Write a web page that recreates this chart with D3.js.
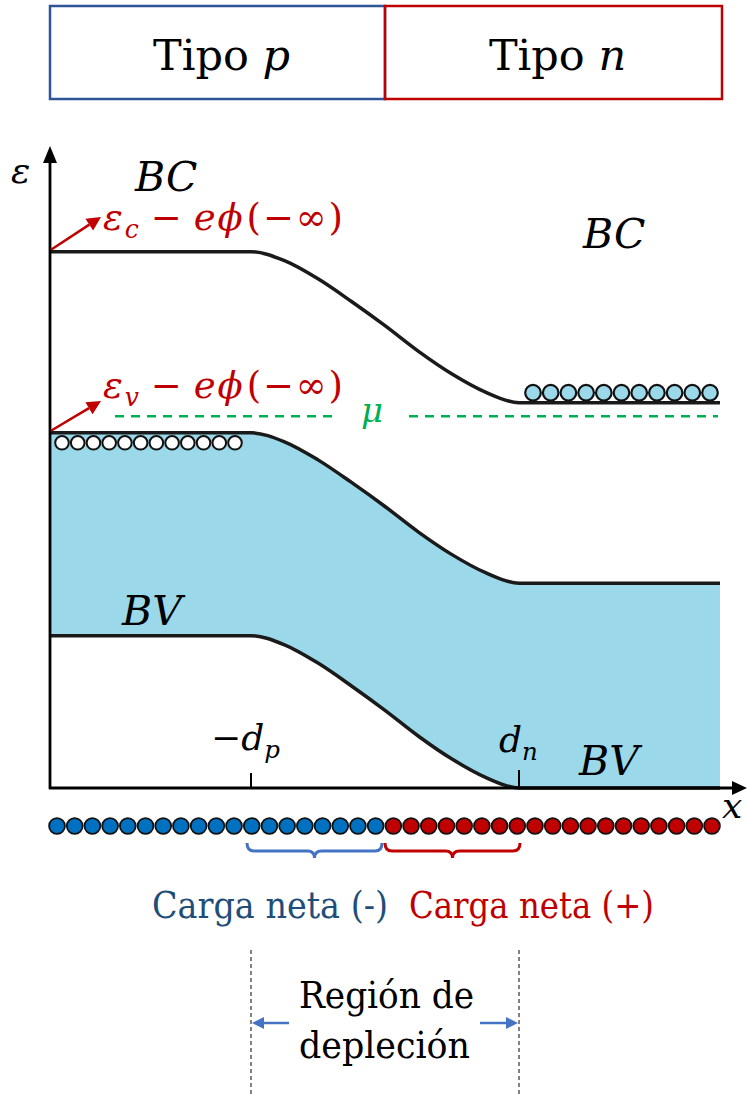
<!DOCTYPE html>
<html>
<head>
<meta charset="utf-8">
<script src="https://cdn.jsdelivr.net/npm/d3@7"></script>
<style>
  body { margin: 0; background: #fff; }
</style>
</head>
<body>
<div id="chart"></div>
<script>
// band diagram data (energy in arbitrary units, position 0..100 across the junction)
var dp = 30, junction = 50, dn = 70;
var cbLevels = [83.8, 60.2];    // conduction band edge, p side / n side
var vbLevels = [55.5, 32.0];    // valence band top
var lowLevels = [23.8, 0.0];    // lower edge of BV
var muLevel = 58.1;
// bending shape: fraction of the total drop vs position
var bendX = [30, 35, 40, 45, 50, 55, 60, 65, 70];
var bendF = [0, 0.06, 0.18, 0.33, 0.49, 0.66, 0.81, 0.93, 1];
var holeCount = 12, electronCount = 11;
var acceptorCount = 19, donorCount = 19;
var boxLabels = ["Tipo ", "Tipo "], boxVars = ["p", "n"];

var svgWidth = 747, svgHeight = 1095;
var serif = "'DejaVu Serif', serif";

var svg = d3.select("#chart")
  .append("svg")
  .attr("width", svgWidth)
  .attr("height", svgHeight)
  .attr("font-family", serif);

var xScale = d3.scaleLinear().domain([0, 100]).range([50, 720]);
var yScale = d3.scaleLinear().domain([0, 100]).range([788, 148]);

var red = "#C00000", green = "#00B050", lightBlue = "#9BD9EA";

// top boxes
var boxColors = ["#2F5597", red];
[0, 1].forEach(function(i) {
  var x0 = i == 0 ? xScale(0) : xScale(junction);
  var x1 = i == 0 ? xScale(junction) : 722;
  svg.append("rect")
    .attr("x", x0).attr("y", 6)
    .attr("width", x1 - x0).attr("height", 93)
    .attr("fill", "none")
    .attr("stroke", boxColors[i])
    .attr("stroke-width", 2.5);
  var t = svg.append("text")
    .attr("x", (x0 + x1) / 2 + 4).attr("y", 70)
    .attr("text-anchor", "middle")
    .style("font-size", "43px");
  t.append("tspan").text(boxLabels[i]);
  t.append("tspan").style("font-style", "italic").text(boxVars[i]);
});

function bandPoints(lv) {
  var pts = [[0, lv[0]]];
  bendX.forEach(function(x, i) {
    pts.push([x, lv[0] + (lv[1] - lv[0]) * bendF[i]]);
  });
  pts.push([100, lv[1]]);
  return pts;
}

var cbPts = bandPoints(cbLevels);
var vbPts = bandPoints(vbLevels);
var lowPts = bandPoints(lowLevels);

// fill of BV
var area = d3.area()
  .x(d => xScale(d[0]))
  .y0((d, i) => yScale(lowPts[i][1]))
  .y1(d => yScale(d[1]))
  .curve(d3.curveMonotoneX);

svg.append("path")
  .datum(vbPts)
  .attr("d", area)
  .attr("fill", lightBlue);

var line = d3.line()
  .x(d => xScale(d[0]))
  .y(d => yScale(d[1]))
  .curve(d3.curveMonotoneX);

[cbPts, vbPts, lowPts].forEach(function(pts) {
  svg.append("path")
    .datum(pts)
    .attr("d", line)
    .attr("fill", "none")
    .attr("stroke", "#1a1a1a")
    .attr("stroke-width", 3.5);
});

// chemical potential
svg.append("line")
  .attr("x1", 115).attr("x2", 334)
  .attr("y1", yScale(muLevel)).attr("y2", yScale(muLevel))
  .attr("stroke", green).attr("stroke-width", 2.5)
  .attr("stroke-dasharray", "9,7");
svg.append("line")
  .attr("x1", 409).attr("x2", 718)
  .attr("y1", yScale(muLevel)).attr("y2", yScale(muLevel))
  .attr("stroke", green).attr("stroke-width", 2.5)
  .attr("stroke-dasharray", "9,7");
svg.append("text")
  .attr("x", 361).attr("y", yScale(muLevel) + 6)
  .attr("fill", green)
  .style("font-style", "italic")
  .style("font-size", "34px")
  .text("μ");

// holes (white) on p side, electrons (cyan) on n side
var holeX = d3.scaleLinear().domain([0, holeCount - 1]).range([62, 235]);
svg.selectAll("circle.hole")
  .data(d3.range(holeCount))
  .enter().append("circle")
  .attr("class", "hole")
  .attr("cx", d => holeX(d))
  .attr("cy", yScale(vbLevels[0]) + 10)
  .attr("r", 6.8)
  .attr("fill", "#fff")
  .attr("stroke", "#111")
  .attr("stroke-width", 2);

var elecX = d3.scaleLinear().domain([0, electronCount - 1]).range([533, 710]);
svg.selectAll("circle.elec")
  .data(d3.range(electronCount))
  .enter().append("circle")
  .attr("class", "elec")
  .attr("cx", d => elecX(d))
  .attr("cy", yScale(cbLevels[1]) - 10)
  .attr("r", 7.8)
  .attr("fill", lightBlue)
  .attr("stroke", "#111")
  .attr("stroke-width", 2.2);

// axes
svg.append("line")
  .attr("x1", 50).attr("x2", 50)
  .attr("y1", 789).attr("y2", 160)
  .attr("stroke", "#000").attr("stroke-width", 2.8);
svg.append("path")
  .attr("d", "M50,146 L43,163 L57,163 Z")
  .attr("fill", "#000");
svg.append("line")
  .attr("x1", 49).attr("x2", 734)
  .attr("y1", 788).attr("y2", 788)
  .attr("stroke", "#000").attr("stroke-width", 2.8);
svg.append("path")
  .attr("d", "M747,788 L732,781 L732,795 Z")
  .attr("fill", "#000");

// ticks at -dp and dn
svg.append("line")
  .attr("x1", xScale(dp)).attr("x2", xScale(dp))
  .attr("y1", 773).attr("y2", 788)
  .attr("stroke", "#000").attr("stroke-width", 2);
svg.append("line")
  .attr("x1", xScale(dn)).attr("x2", xScale(dn))
  .attr("y1", 770).attr("y2", 788)
  .attr("stroke", "#000").attr("stroke-width", 2);

// labels
function mathText(x, y, size, color, parts, len) {
  var t = svg.append("text")
    .attr("x", x).attr("y", y)
    .attr("fill", color)
    .style("font-size", size + "px");
  if (len) t.attr("textLength", len).attr("lengthAdjust", "spacing");
  parts.forEach(function(p) {
    var s = t.append("tspan").text(p.t);
    if (p.i) s.style("font-style", "italic");
    if (p.sub) s.style("font-size", (size * 0.68) + "px");
    if (p.dy) s.attr("dy", p.dy);
    if (p.dx) s.attr("dx", p.dx);
  });
  return t;
}

mathText(11, 183, 36, "#000", [{t: "ε", i: true}]);
mathText(135, 191, 41, "#000", [{t: "BC", i: true}]);
mathText(583, 248, 41, "#000", [{t: "BC", i: true}]);
mathText(122, 625, 41, "#000", [{t: "BV", i: true}]);
mathText(579, 775, 41, "#000", [{t: "BV", i: true}]);
mathText(722, 818, 36, "#000", [{t: "x", i: true}]);

mathText(103, 230, 37, red, [
  {t: "ε", i: true}, {t: "c", i: true, sub: true, dy: 8},
  {t: "−", dy: -8, dx: 10}, {t: "e", i: true, dx: 10}, {t: "ϕ", i: true},
  {t: "(", dx: 2}, {t: "−"}, {t: "∞"}, {t: ")"}
], 240);
mathText(103, 398, 37, red, [
  {t: "ε", i: true}, {t: "v", i: true, sub: true, dy: 8},
  {t: "−", dy: -8, dx: 10}, {t: "e", i: true, dx: 10}, {t: "ϕ", i: true},
  {t: "(", dx: 2}, {t: "−"}, {t: "∞"}, {t: ")"}
], 240);

mathText(211, 750, 36, "#000", [
  {t: "−"}, {t: "d", i: true}, {t: "p", i: true, sub: true, dy: 8}
]);
mathText(499, 752, 36, "#000", [
  {t: "d", i: true}, {t: "n", i: true, sub: true, dy: 8}
]);

// red arrows pointing to the level labels
function arrow(x1, y1, x2, y2, color, w, head) {
  var ang = Math.atan2(y2 - y1, x2 - x1);
  var bx = x2 - head * Math.cos(ang), by = y2 - head * Math.sin(ang);
  svg.append("line")
    .attr("x1", x1).attr("y1", y1).attr("x2", bx).attr("y2", by)
    .attr("stroke", color).attr("stroke-width", w);
  var px = Math.sin(ang) * head * 0.5, py = -Math.cos(ang) * head * 0.5;
  svg.append("path")
    .attr("d", `M${x2},${y2} L${bx + px},${by + py} L${bx - px},${by - py} Z`)
    .attr("fill", color);
}
arrow(51, yScale(cbLevels[0]) - 2, 101, 217, red, 2.5, 14);
arrow(51, yScale(vbLevels[0]) - 2, 101, 401, red, 2.5, 14);

// fixed charges below the axis
var chargeX = d3.scaleLinear().domain([0, acceptorCount + donorCount - 1]).range([57, 712]);
svg.selectAll("circle.charge")
  .data(d3.range(acceptorCount + donorCount))
  .enter().append("circle")
  .attr("class", "charge")
  .attr("cx", d => chargeX(d))
  .attr("cy", 826)
  .attr("r", 7.9)
  .attr("fill", d => d < acceptorCount ? "#0070C0" : red)
  .attr("stroke", "#111")
  .attr("stroke-width", 1.8);

// braces
function brace(x0, x1, color) {
  var m = (x0 + x1) / 2;
  var top = 843, mid = 851, tip = 858;
  svg.append("path")
    .attr("d", `M${x0},${top} Q${x0},${mid} ${x0 + 7},${mid} L${m - 7},${mid} Q${m},${mid} ${m},${tip}` +
      ` Q${m},${mid} ${m + 7},${mid} L${x1 - 7},${mid} Q${x1},${mid} ${x1},${top}`)
    .attr("fill", "none")
    .attr("stroke", color)
    .attr("stroke-width", 3);
}
brace(xScale(dp) - 4, xScale(junction) - 3, "#4472C4");
brace(xScale(junction), xScale(dn) + 1, red);

// plain text squeezed to the widths measured on the picture
function plainText(x, y, color, s, len) {
  svg.append("text")
    .attr("x", x).attr("y", y)
    .attr("fill", color)
    .attr("textLength", len)
    .attr("lengthAdjust", "spacingAndGlyphs")
    .style("font-size", "38px")
    .text(s);
}
plainText(152, 918, "#1F4E79", "Carga neta (-)", 236);
plainText(409, 918, red, "Carga neta (+)", 245);

// depletion region
[dp, dn].forEach(function(v) {
  svg.append("line")
    .attr("x1", xScale(v)).attr("x2", xScale(v))
    .attr("y1", 950).attr("y2", 1095)
    .attr("stroke", "#404040").attr("stroke-width", 1.3)
    .attr("stroke-dasharray", "4,3");
});
arrow(289, 1023, xScale(dp) + 1, 1023, "#4472C4", 2.5, 12);
arrow(480, 1023, xScale(dn) - 1, 1023, "#4472C4", 2.5, 12);

plainText(299, 1008, "#000", "Región de", 175);
plainText(299, 1058, "#000", "depleción", 171);
</script>
</body>
</html>
